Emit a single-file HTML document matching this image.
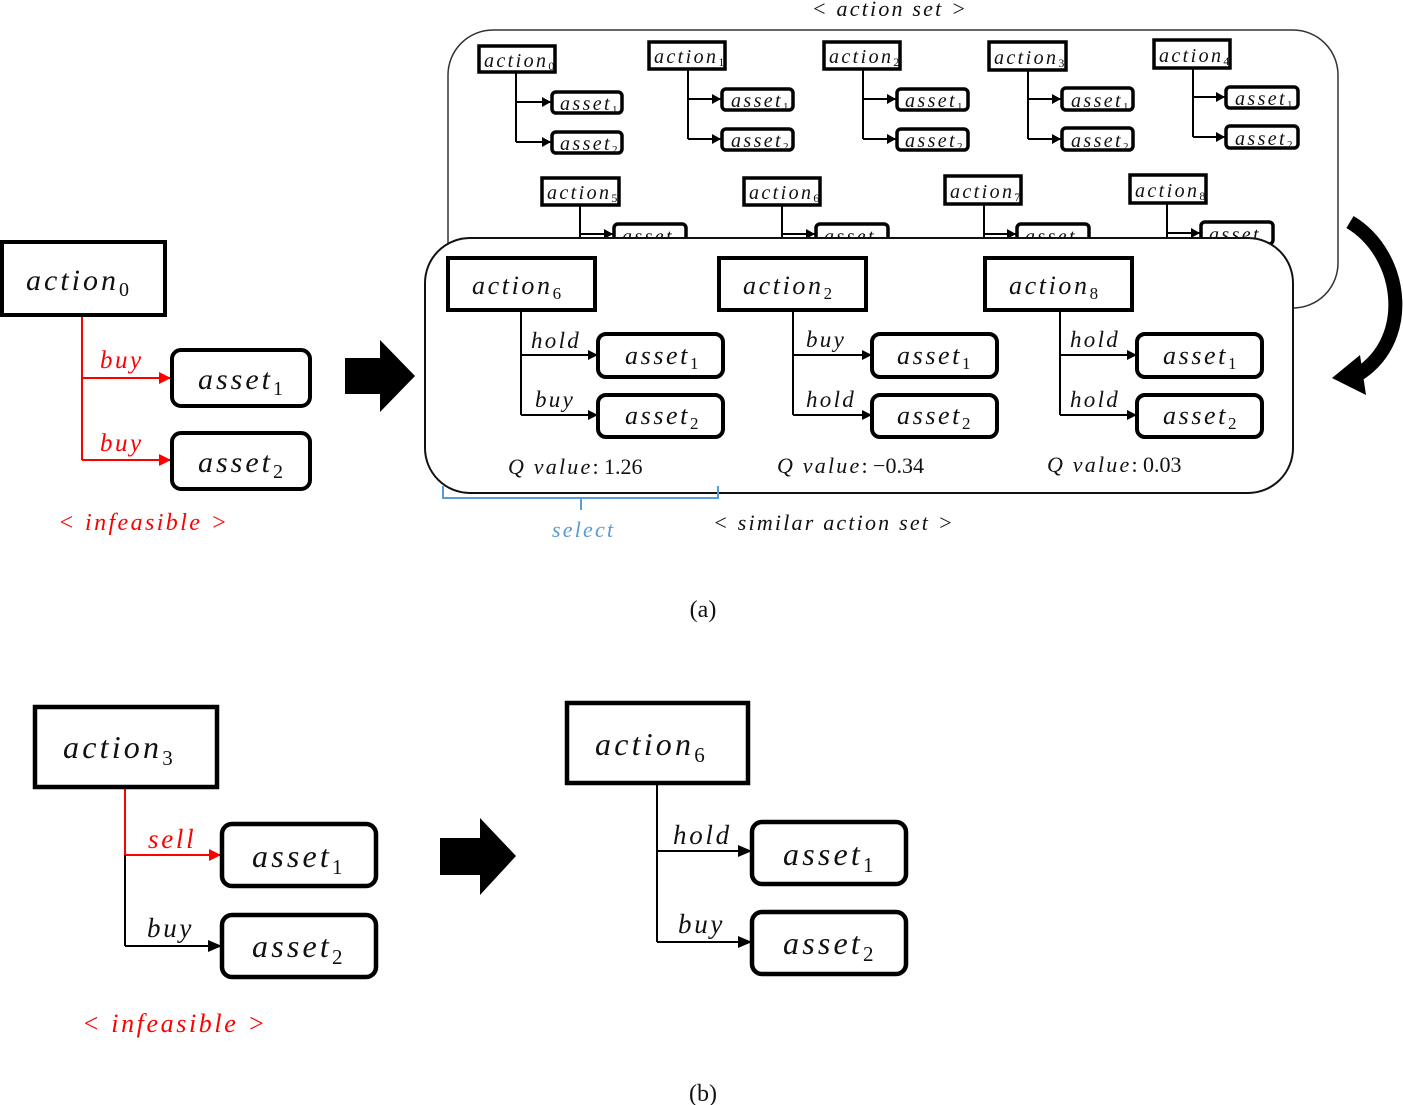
<!DOCTYPE html>
<html><head><meta charset="utf-8"><style>
html,body{margin:0;padding:0;background:#fff;}
svg{display:block;}
text{font-family:"Liberation Serif",serif;font-style:italic;fill:#111;letter-spacing:0.1em;}
.up{font-style:normal;letter-spacing:0;}
.r{fill:#f00;}
.sm{letter-spacing:0.12em;}
</style></head><body>
<svg width="1403" height="1105" viewBox="0 0 1403 1105" xmlns="http://www.w3.org/2000/svg">
<defs>
<marker id="ab" markerWidth="10" markerHeight="10" refX="9" refY="5" orient="auto" markerUnits="userSpaceOnUse"><path d="M0,0 L10,5 L0,10 Z" fill="#000"/></marker>
<marker id="abs" markerWidth="9" markerHeight="10" refX="9" refY="5" orient="auto" markerUnits="userSpaceOnUse"><path d="M0,0 L9,5 L0,10 Z" fill="#000"/></marker>
<marker id="ar" markerWidth="12" markerHeight="12" refX="11" refY="6" orient="auto" markerUnits="userSpaceOnUse"><path d="M0,0 L12,6 L0,12 Z" fill="#f00"/></marker>
<marker id="ab2" markerWidth="14" markerHeight="12" refX="13" refY="6" orient="auto" markerUnits="userSpaceOnUse"><path d="M0,0 L14,6 L0,12 Z" fill="#000"/></marker>
</defs>

<text x="890" y="16" font-size="22" text-anchor="middle">&lt; action set &gt;</text>
<rect x="448" y="30" width="890" height="278" rx="45" fill="#fff" stroke="#333" stroke-width="1.5"/>

<g stroke="#000" stroke-width="2" fill="none">
<path d="M516,72 V142"/><path d="M516,102 H551" marker-end="url(#abs)"/><path d="M516,142 H551" marker-end="url(#abs)"/>
<path d="M688,69 V139"/><path d="M688,99 H721" marker-end="url(#abs)"/><path d="M688,139 H721" marker-end="url(#abs)"/>
<path d="M863,69 V139"/><path d="M863,99 H896" marker-end="url(#abs)"/><path d="M863,139 H896" marker-end="url(#abs)"/>
<path d="M1028,70 V139"/><path d="M1028,99 H1061" marker-end="url(#abs)"/><path d="M1028,139 H1061" marker-end="url(#abs)"/>
<path d="M1193,68 V137"/><path d="M1193,97 H1225" marker-end="url(#abs)"/><path d="M1193,137 H1225" marker-end="url(#abs)"/>
<path d="M580,205 V240"/><path d="M580,234 H613" marker-end="url(#abs)"/>
<path d="M782,205 V240"/><path d="M782,234 H815" marker-end="url(#abs)"/>
<path d="M984,204 V240"/><path d="M984,234 H1016" marker-end="url(#abs)"/>
<path d="M1167,203 V240"/><path d="M1167,233 H1200" marker-end="url(#abs)"/>
</g>
<g stroke="#000" stroke-width="3.5" fill="#fff">
<rect x="479" y="46" width="76" height="26"/>
<rect x="649" y="42" width="76" height="27"/>
<rect x="824" y="42" width="76" height="27"/>
<rect x="989" y="42" width="77" height="28"/>
<rect x="1154" y="40" width="76" height="28"/>
<rect x="552" y="92" width="70" height="21" rx="4"/><rect x="552" y="132" width="70" height="21" rx="4"/>
<rect x="722" y="89" width="71" height="21" rx="4"/><rect x="722" y="129" width="71" height="21" rx="4"/>
<rect x="897" y="89" width="71" height="21" rx="4"/><rect x="897" y="129" width="71" height="21" rx="4"/>
<rect x="1062" y="88" width="71" height="22" rx="4"/><rect x="1062" y="128" width="71" height="22" rx="4"/>
<rect x="1226" y="87" width="72" height="21" rx="4"/><rect x="1226" y="126" width="72" height="22" rx="4"/>
<rect x="542" y="178" width="77" height="27"/>
<rect x="744" y="178" width="76" height="27"/>
<rect x="945" y="176" width="76" height="28"/>
<rect x="1130" y="175" width="76" height="28"/>
<rect x="614" y="224" width="72" height="22" rx="4"/>
<rect x="816" y="224" width="72" height="22" rx="4"/>
<rect x="1017" y="224" width="72" height="22" rx="4"/>
<rect x="1201" y="222" width="72" height="22" rx="4"/>
</g>
<g font-size="20" class="sm">
<text class="sm" x="484" y="67">action<tspan class="up" font-size="12" dy="3">0</tspan></text>
<text class="sm" x="654" y="63">action<tspan class="up" font-size="12" dy="3">1</tspan></text>
<text class="sm" x="829" y="63">action<tspan class="up" font-size="12" dy="3">2</tspan></text>
<text class="sm" x="994" y="64">action<tspan class="up" font-size="12" dy="3">3</tspan></text>
<text class="sm" x="1159" y="62">action<tspan class="up" font-size="12" dy="3">4</tspan></text>
<text class="sm" x="547" y="199">action<tspan class="up" font-size="12" dy="3">5</tspan></text>
<text class="sm" x="749" y="199">action<tspan class="up" font-size="12" dy="3">6</tspan></text>
<text class="sm" x="950" y="198">action<tspan class="up" font-size="12" dy="3">7</tspan></text>
<text class="sm" x="1135" y="197">action<tspan class="up" font-size="12" dy="3">8</tspan></text>
<text class="sm" x="560" y="110">asset<tspan class="up" font-size="11" dy="3">1</tspan></text>
<text class="sm" x="560" y="150">asset<tspan class="up" font-size="11" dy="3">2</tspan></text>
<text class="sm" x="731" y="107">asset<tspan class="up" font-size="11" dy="3">1</tspan></text>
<text class="sm" x="731" y="147">asset<tspan class="up" font-size="11" dy="3">2</tspan></text>
<text class="sm" x="905" y="107">asset<tspan class="up" font-size="11" dy="3">1</tspan></text>
<text class="sm" x="905" y="147">asset<tspan class="up" font-size="11" dy="3">2</tspan></text>
<text class="sm" x="1071" y="107">asset<tspan class="up" font-size="11" dy="3">1</tspan></text>
<text class="sm" x="1071" y="147">asset<tspan class="up" font-size="11" dy="3">2</tspan></text>
<text class="sm" x="1235" y="105">asset<tspan class="up" font-size="11" dy="3">1</tspan></text>
<text class="sm" x="1235" y="145">asset<tspan class="up" font-size="11" dy="3">2</tspan></text>
<text class="sm" x="622" y="243">asset</text><text class="sm" x="824" y="243">asset</text><text class="sm" x="1025" y="243">asset</text><text class="sm" x="1209" y="241">asset</text>
</g>

<rect x="425" y="238" width="868" height="255" rx="45" fill="#fff" stroke="#111" stroke-width="2"/>
<g stroke="#000" stroke-width="2" fill="none">
<path d="M521,310 V415"/><path d="M521,355 H597" marker-end="url(#ab)"/><path d="M521,415 H597" marker-end="url(#ab)"/>
<path d="M793,310 V415"/><path d="M793,355 H871" marker-end="url(#ab)"/><path d="M793,415 H871" marker-end="url(#ab)"/>
<path d="M1060,310 V415"/><path d="M1060,355 H1136" marker-end="url(#ab)"/><path d="M1060,415 H1136" marker-end="url(#ab)"/>
</g>
<g stroke="#000" stroke-width="4" fill="#fff">
<rect x="448" y="258" width="147" height="52"/>
<rect x="719" y="258" width="147" height="52"/>
<rect x="985" y="258" width="147" height="52"/>
<rect x="598" y="334" width="125" height="43" rx="8"/><rect x="598" y="395" width="125" height="42" rx="8"/>
<rect x="872" y="334" width="125" height="43" rx="8"/><rect x="872" y="395" width="125" height="42" rx="8"/>
<rect x="1137" y="334" width="125" height="43" rx="8"/><rect x="1137" y="395" width="125" height="42" rx="8"/>
</g>
<g font-size="26">
<text x="472" y="294">action<tspan class="up" font-size="17" dy="5">6</tspan></text>
<text x="743" y="294">action<tspan class="up" font-size="17" dy="5">2</tspan></text>
<text x="1009" y="294">action<tspan class="up" font-size="17" dy="5">8</tspan></text>
<text x="625" y="364">asset<tspan class="up" font-size="17" dy="5">1</tspan></text>
<text x="625" y="424">asset<tspan class="up" font-size="17" dy="5">2</tspan></text>
<text x="897" y="364">asset<tspan class="up" font-size="17" dy="5">1</tspan></text>
<text x="897" y="424">asset<tspan class="up" font-size="17" dy="5">2</tspan></text>
<text x="1163" y="364">asset<tspan class="up" font-size="17" dy="5">1</tspan></text>
<text x="1163" y="424">asset<tspan class="up" font-size="17" dy="5">2</tspan></text>
</g>
<g font-size="23">
<text x="531" y="348">hold</text><text x="535" y="407">buy</text>
<text x="806" y="347">buy</text><text x="806" y="407">hold</text>
<text x="1070" y="347">hold</text><text x="1070" y="407">hold</text>
</g>
<g font-size="22">
<text x="508" y="474">Q value<tspan class="up">: 1.26</tspan></text>
<text x="777" y="473">Q value<tspan class="up">: −0.34</tspan></text>
<text x="1047" y="472">Q value<tspan class="up">: 0.03</tspan></text>
<text x="713" y="530">&lt; similar action set &gt;</text>
</g>
<path d="M443,486 V498 H718 V486 M581,498 V510" stroke="#5b9bd5" stroke-width="2" fill="none"/>
<text x="552" y="537" font-size="22" style="fill:#5b9bd5">select</text>

<path d="M1350,222 C1405,255 1415,345 1352,378" stroke="#000" stroke-width="14" fill="none"/>
<path d="M1332,378 L1360,355 L1366,395 Z" fill="#000"/>

<g stroke="#f00" stroke-width="2" fill="none">
<path d="M82,315 V460"/><path d="M82,378 H170" marker-end="url(#ar)"/><path d="M82,460 H170" marker-end="url(#ar)"/>
</g>
<g stroke="#000" stroke-width="4" fill="#fff">
<rect x="2" y="242" width="163" height="73"/>
<rect x="172" y="350" width="138" height="56" rx="9"/>
<rect x="172" y="433" width="138" height="56" rx="9"/>
</g>
<text x="26" y="290" font-size="30">action<tspan class="up" font-size="20" dy="6">0</tspan></text>
<text x="198" y="389" font-size="30">asset<tspan class="up" font-size="20" dy="6">1</tspan></text>
<text x="198" y="472" font-size="30">asset<tspan class="up" font-size="20" dy="6">2</tspan></text>
<text x="100" y="368" font-size="25" class="r">buy</text>
<text x="100" y="451" font-size="25" class="r">buy</text>
<text x="58" y="530" font-size="24" class="r">&lt; infeasible &gt;</text>
<path d="M345,358 H380 V340 L415,376 L380,412 V394 H345 Z" fill="#000"/>

<text x="703" y="617" font-size="24" class="up" text-anchor="middle">(a)</text>

<g stroke-width="2" fill="none">
<path d="M125,787 V855" stroke="#f00"/>
<path d="M125,855 H220" stroke="#f00" marker-end="url(#ar)"/>
<path d="M125,855 V946" stroke="#000"/>
<path d="M125,946 H221" stroke="#000" marker-end="url(#ab2)"/>
<path d="M657,783 V942" stroke="#000"/>
<path d="M657,851 H751" stroke="#000" marker-end="url(#ab2)"/>
<path d="M657,942 H751" stroke="#000" marker-end="url(#ab2)"/>
</g>
<g stroke="#000" stroke-width="4.5" fill="#fff">
<rect x="35" y="707" width="182" height="80"/>
<rect x="222" y="824" width="154" height="62" rx="10"/>
<rect x="222" y="915" width="154" height="62" rx="10"/>
<rect x="567" y="703" width="181" height="80"/>
<rect x="752" y="822" width="154" height="62" rx="10"/>
<rect x="752" y="912" width="154" height="62" rx="10"/>
</g>
<g font-size="32">
<text x="63" y="758">action<tspan class="up" font-size="21" dy="7">3</tspan></text>
<text x="595" y="755">action<tspan class="up" font-size="21" dy="7">6</tspan></text>
<text x="252" y="867">asset<tspan class="up" font-size="21" dy="7">1</tspan></text>
<text x="252" y="957">asset<tspan class="up" font-size="21" dy="7">2</tspan></text>
<text x="783" y="865">asset<tspan class="up" font-size="21" dy="7">1</tspan></text>
<text x="783" y="954">asset<tspan class="up" font-size="21" dy="7">2</tspan></text>
</g>
<g font-size="27">
<text x="148" y="848" class="r">sell</text>
<text x="147" y="937">buy</text>
<text x="673" y="844">hold</text>
<text x="678" y="933">buy</text>
</g>
<text x="82" y="1032" font-size="26" class="r">&lt; infeasible &gt;</text>
<path d="M440,838 H480 V818 L516,856 L480,895 V875 H440 Z" fill="#000"/>
<text x="703" y="1101" font-size="24" class="up" text-anchor="middle">(b)</text>
</svg>
</body></html>
